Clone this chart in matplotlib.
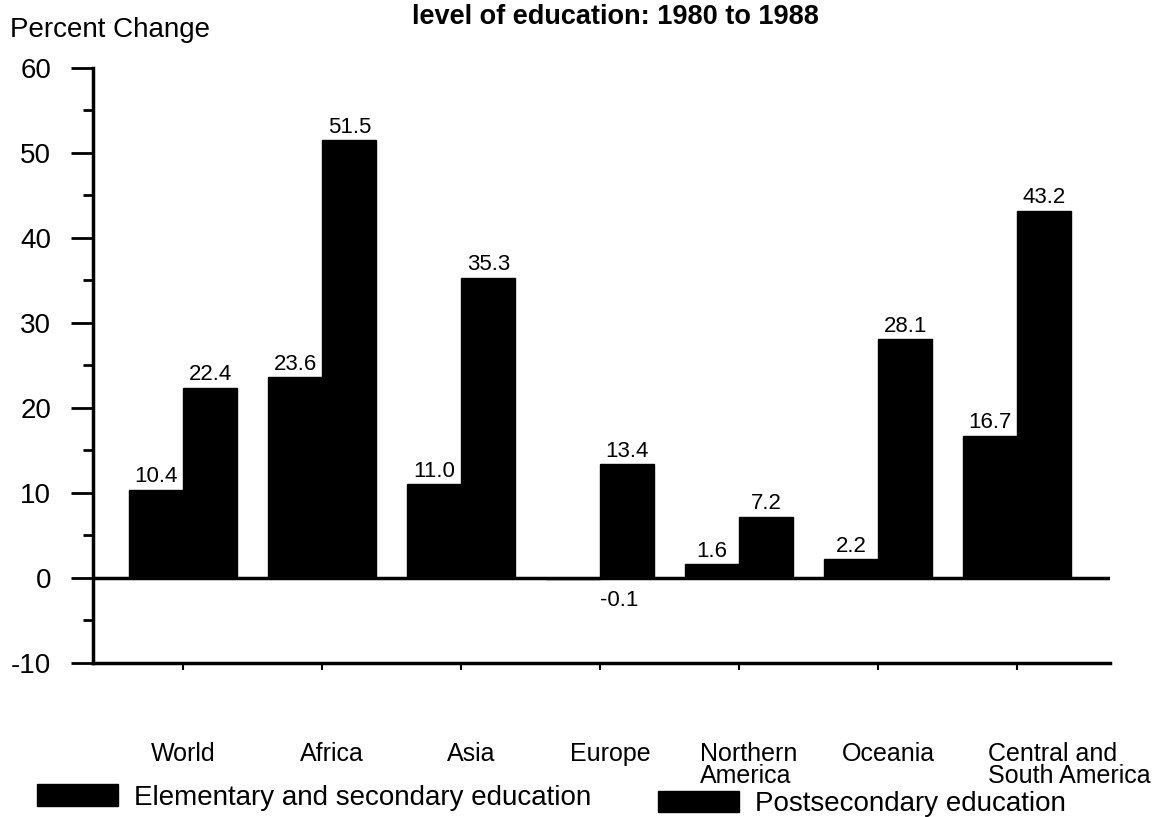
import numpy as np
import matplotlib
matplotlib.use("Agg")
import matplotlib.pyplot as plt
from matplotlib.patches import Patch
from matplotlib.transforms import ScaledTranslation, blended_transform_factory

plt.rcParams['font.family'] = ['Liberation Sans', 'DejaVu Sans']
plt.rcParams['axes.unicode_minus'] = False

regions = ['World', 'Africa', 'Asia', 'Europe', 'Northern\nAmerica', 'Oceania',
           'Central and\nSouth America']
elementary = [10.4, 23.6, 11.0, -0.1, 1.6, 2.2, 16.7]
postsecondary = [22.4, 51.5, 35.3, 13.4, 7.2, 28.1, 43.2]
series_names = ['Elementary and secondary education', 'Postsecondary education']

fig = plt.figure(figsize=(11.65, 8.17), dpi=100)
ax = fig.add_axes([0.0798, 0.1885, 0.873, 0.7283])

x = np.arange(len(regions))
w = 0.39
ax.bar(x - w/2, elementary, w, color='black', edgecolor='black')
ax.bar(x + w/2, postsecondary, w, color='black', edgecolor='black')

# value labels
for xi, v in zip(x - w/2, elementary):
    if v < 0:
        ax.text(xi + 0.33, v - 1.3, f'{v:.1f}', ha='center', va='top', fontsize=16)
    else:
        ax.text(xi, v + 0.3, f'{v:.1f}', ha='center', va='bottom', fontsize=16)
for xi, v in zip(x + w/2, postsecondary):
    ax.text(xi, v + 0.3, f'{v:.1f}', ha='center', va='bottom', fontsize=16)

ax.set_xlim(-0.65, 6.67)
ax.set_ylim(-10, 60)
ax.set_yticks(np.arange(-10, 61, 10))
ax.set_yticks(np.arange(-5, 60, 10), minor=True)
ax.tick_params(axis='y', which='major', length=16, width=2, labelsize=20, pad=14)
ax.tick_params(axis='y', which='minor', length=7, width=2)
ax.set_xticks(x)
ax.set_xticklabels([])
ax.tick_params(axis='x', length=5, width=1.5)

for s in ['top', 'right']:
    ax.spines[s].set_visible(False)
ax.spines['left'].set_linewidth(2.5)
ax.spines['bottom'].set_linewidth(2.5)
ax.axhline(0, color='black', lw=2.5)

# category labels below the axis
trans = blended_transform_factory(ax.transData, ax.transAxes)
for i, name in enumerate(regions):
    t = trans
    if i == len(regions) - 1:
        t = trans + ScaledTranslation(0.52, 0, fig.dpi_scale_trans)
    elif i > 0:
        t = trans + ScaledTranslation(0.1, 0, fig.dpi_scale_trans)
    ax.text(i, -0.132, name, transform=t, ha='center', va='top', fontsize=18,
            linespacing=0.9, multialignment='left')

fig.text(0.009, 0.955, 'Percent Change', fontsize=20, va='baseline')
fig.text(0.528, 0.971, 'level of education: 1980 to 1988', fontsize=19.5,
         fontweight='bold', ha='center', va='baseline')

h1 = Patch(facecolor='black', edgecolor='black', label=series_names[0])
h2 = Patch(facecolor='black', edgecolor='black', label=series_names[1])
fig.legend(handles=[h1], loc='center left', bbox_to_anchor=(0.02, 0.024),
           frameon=False, fontsize=20, handlelength=2.9, handleheight=0.8,
           handletextpad=0.6, borderpad=0)
fig.legend(handles=[h2], loc='center left', bbox_to_anchor=(0.553, 0.016),
           frameon=False, fontsize=20, handlelength=2.9, handleheight=0.8,
           handletextpad=0.6, borderpad=0)

fig.savefig('out.png', dpi=100)
